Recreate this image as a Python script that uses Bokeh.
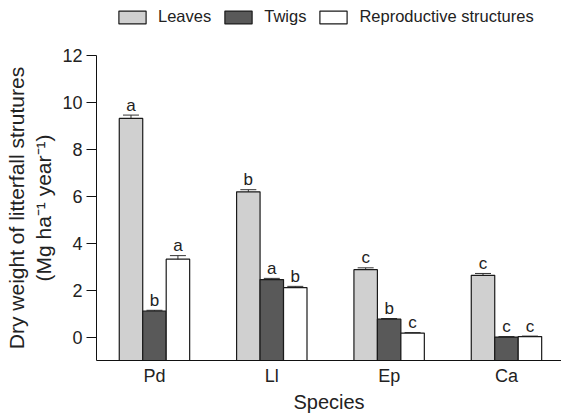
from bokeh.plotting import figure
from bokeh.layouts import column
from bokeh.models import ColumnDataSource, Range1d, FixedTicker, Whisker, TeeHead, Legend, LegendItem
from bokeh.embed import file_html
from bokeh.resources import INLINE
from bokeh.core.properties import value

species = ["Pd", "Ll", "Ep", "Ca"]
series = ["Leaves", "Twigs", "Reproductive structures"]
leaves = [9.32, 6.19, 2.87, 2.63]
twigs = [1.11, 2.45, 0.76, 0.0]
repro = [3.32, 2.11, 0.17, 0.02]
leaves_err = [0.14, 0.09, 0.08, 0.08]
twigs_err = [0.03, 0.05, 0.03, 0.02]
repro_err = [0.15, 0.05, 0.02, 0.02]
leaves_sig = ["a", "b", "c", "c"]
twigs_sig = ["b", "a", "b", "c"]
repro_sig = ["a", "b", "c", "c"]
y_ticks = [0, 2, 4, 6, 8, 10, 12]

colors = ["#d0d0d0", "#595959", "#ffffff"]
FONT = "Liberation Sans"
BAR_LINE = dict(line_color="#1a1a1a", line_width=1.2)

p = figure(frame_width=465, frame_height=305, output_backend="svg", toolbar_location=None,
           x_range=Range1d(0.006, 3.969), y_range=Range1d(-1, 12),
           min_border_left=96, min_border_right=0, min_border_top=14, min_border_bottom=0)
p.outline_line_color = None
p.xgrid.visible = False
p.ygrid.visible = False

centers = [i + 0.5 for i in range(len(species))]
offsets = [-0.2, 0.0, 0.2]
vals = [leaves, twigs, repro]
errs = [leaves_err, twigs_err, repro_err]
sigs = [leaves_sig, twigs_sig, repro_sig]

for k in range(3):
    xs = [c + offsets[k] for c in centers]
    top = vals[k]
    src = ColumnDataSource(dict(
        x=xs, top=top,
        upper=[t + e for t, e in zip(top, errs[k])],
        lower=[t - e for t, e in zip(top, errs[k])],
        sig=sigs[k],
    ))
    p.vbar(x="x", top="top", bottom=-1, width=0.2, source=src,
           fill_color=colors[k], **BAR_LINE)
    w = Whisker(base="x", upper="upper", lower="lower", source=src,
                line_color="#333333", line_width=1,
                upper_head=TeeHead(size=16, line_color="#333333", line_width=1),
                lower_head=TeeHead(size=16, line_color="#333333", line_width=1))
    p.add_layout(w)
    p.text(x="x", y="upper", text="sig", source=src, text_align="center",
           text_baseline="alphabetic", y_offset=-10,
           text_font=value(FONT), text_font_size="17px", text_color="#222222")

# axes
p.yaxis.ticker = FixedTicker(ticks=y_ticks)
p.yaxis.minor_tick_line_color = None
p.yaxis.major_tick_out = 10
p.yaxis.major_tick_in = 0
p.yaxis.major_label_standoff = 4
p.yaxis.axis_line_color = "#111111"
p.yaxis.major_tick_line_color = "#111111"
p.yaxis.major_label_text_font = FONT
p.yaxis.major_label_text_font_size = "18px"
p.yaxis.major_label_text_color = "#222222"
p.yaxis.axis_label = "Dry weight of litterfall strutures\n(Mg ha\u207b\u00b9 year\u207b\u00b9)"
p.yaxis.axis_label_text_font = FONT
p.yaxis.axis_label_text_font_size = "21px"
p.yaxis.axis_label_text_font_style = "normal"
p.yaxis.axis_label_text_color = "#222222"
p.yaxis.axis_label_standoff = 4

p.xaxis.ticker = FixedTicker(ticks=centers)
p.xaxis.major_label_overrides = {c: s for c, s in zip(centers, species)}
p.xaxis.major_tick_line_color = None
p.xaxis.major_tick_out = 0
p.xaxis.major_tick_in = 0
p.xaxis.minor_tick_line_color = None
p.xaxis.major_label_standoff = 5
p.xaxis.axis_line_color = "#111111"
p.xaxis.major_label_text_font = FONT
p.xaxis.major_label_text_font_size = "18px"
p.xaxis.major_label_text_color = "#222222"
p.xaxis.axis_label = "Species"
p.xaxis.axis_label_text_font = FONT
p.xaxis.axis_label_text_font_size = "20px"
p.xaxis.axis_label_text_font_style = "normal"
p.xaxis.axis_label_text_color = "#222222"
p.xaxis.axis_label_standoff = 2

# legend strip above the chart (its dummy bars sit outside its visible range)
lg = figure(frame_width=561, frame_height=41, output_backend="svg", toolbar_location=None,
            x_axis_location=None, y_axis_location=None,
            x_range=Range1d(0, 1), y_range=Range1d(0, 1),
            min_border_left=0, min_border_right=0, min_border_top=0, min_border_bottom=0)
lg.outline_line_color = None
lg.grid.visible = False
items = []
for k in range(3):
    r = lg.vbar(x=[-10], top=[-10], bottom=[-11], width=0.1, fill_color=colors[k], **BAR_LINE)
    items.append(LegendItem(label=series[k], renderers=[r]))
legend = Legend(items=items, orientation="horizontal", location=(115, 15),
                glyph_width=34, glyph_height=16, label_standoff=9, spacing=10,
                padding=0, margin=0, border_line_color=None, background_fill_alpha=0,
                label_text_font=FONT, label_text_font_size="16.5px", label_text_color="#222222",
                label_height=16)
lg.add_layout(legend, "center")

layout = column(lg, p, spacing=0)
open("out.html", "w").write(file_html(layout, INLINE))
